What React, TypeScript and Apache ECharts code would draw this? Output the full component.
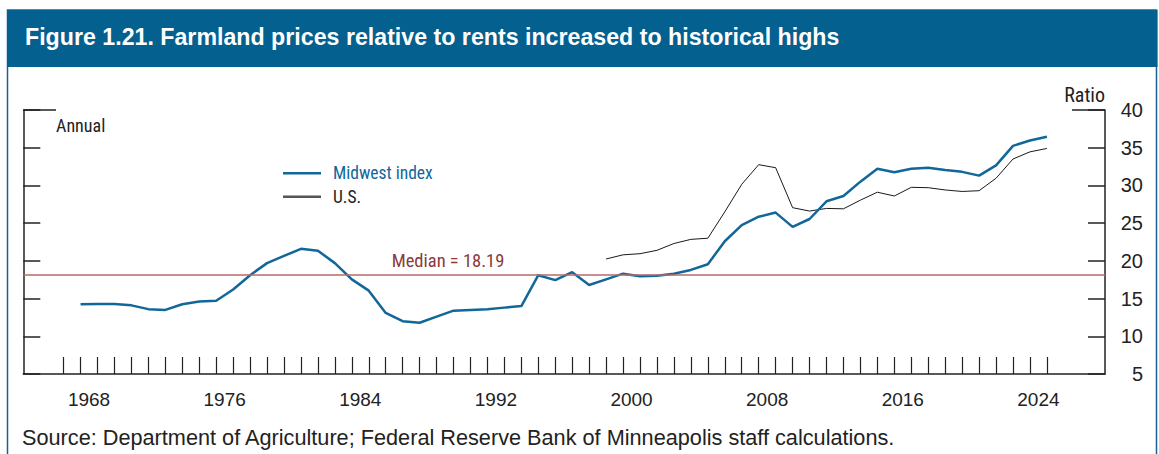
import React, { useEffect, useRef } from "react";
import * as echarts from "echarts";

// ---- Data ----
const midwestYears: number[] = [
  1968, 1969, 1970, 1971, 1972, 1973, 1974, 1975, 1976, 1977, 1978, 1979, 1980,
  1981, 1982, 1983, 1984, 1985, 1986, 1987, 1988, 1989, 1990, 1991, 1992, 1993,
  1994, 1995, 1996, 1997, 1998, 1999, 2000, 2001, 2002, 2003, 2004, 2005, 2006,
  2007, 2008, 2009, 2010, 2011, 2012, 2013, 2014, 2015, 2016, 2017, 2018, 2019,
  2020, 2021, 2022, 2023, 2024, 2025,
];
const midwestValues: number[] = [
  14.24, 14.28, 14.28, 14.1, 13.6, 13.5, 14.25, 14.6, 14.7, 16.2, 18.1, 19.7, 20.65,
  21.6, 21.35, 19.7, 17.55, 16.05, 13.1, 12.0, 11.8, 12.6, 13.4, 13.5, 13.6, 13.8,
  14.0, 18.1, 17.45, 18.5, 16.8, 17.55, 18.3, 17.95, 18.03, 18.3, 18.8, 19.55, 22.6,
  24.75, 25.85, 26.4, 24.5, 25.55, 27.9, 28.6, 30.5, 32.2, 31.75, 32.2, 32.35, 32.05,
  31.8, 31.3, 32.65, 35.25, 35.95, 36.45,
];
const usYears: number[] = [
  1999, 2000, 2001, 2002, 2003, 2004, 2005, 2006, 2007, 2008, 2009, 2010, 2011,
  2012, 2013, 2014, 2015, 2016, 2017, 2018, 2019, 2020, 2021, 2022, 2023, 2024, 2025,
];
const usValues: number[] = [
  20.25, 20.8, 20.95, 21.4, 22.3, 22.85, 23.0, 26.5, 30.15, 32.75, 32.35, 27.05, 26.6,
  26.95, 26.9, 28.05, 29.1, 28.6, 29.75, 29.7, 29.4, 29.2, 29.3, 30.95, 33.5, 34.45, 34.9,
];
const medianValue = 18.19;
const firstTickYear = 1967;
const lastTickYear = 2025;
const labelYears: number[] = [1968, 1976, 1984, 1992, 2000, 2008, 2016, 2024];
const yMin = 5;
const yMax = 40;
const yStep = 5;

const titleText = "Figure 1.21. Farmland prices relative to rents increased to historical highs";
const sourceText =
  "Source: Department of Agriculture; Federal Reserve Bank of Minneapolis staff calculations.";

// ---- Layout ----
const W = 1159;
const H = 454;
const frameLeft = 23.3;
const frameRight = 1105;
const plotTop = 110;
const plotBottom = 374;
const tickLeft = 63.6;
const tickRight = 1046.9;
const pxPerYear = (tickRight - tickLeft) / (lastTickYear - firstTickYear);
const xMin = firstTickYear - (tickLeft - frameLeft) / pxPerYear;
const xMax = lastTickYear + (frameRight - tickRight) / pxPerYear;

const NARROW = "'Liberation Sans Narrow', 'Roboto Condensed', 'DejaVu Sans Condensed', 'Liberation Sans', sans-serif";
const SANS = "'Liberation Sans', Arial, sans-serif";
const BLUE = "#11679A";
const INK = "#222222";

export default function App() {
  const ref = useRef<HTMLDivElement>(null);

  useEffect(() => {
    if (!ref.current) return;
    const chart = echarts.init(ref.current, null, { renderer: "svg" });
    const yToPx = (v: number) => plotBottom - ((v - yMin) / (yMax - yMin)) * (plotBottom - plotTop);

    chart.setOption({
      animation: false,
      backgroundColor: "#ffffff",
      grid: [
        { left: frameLeft, right: W - frameRight, top: plotTop, bottom: H - plotBottom },
        { left: tickLeft, right: W - tickRight, top: plotBottom - 17, bottom: H - plotBottom },
      ],
      xAxis: [
        {
          type: "value",
          gridIndex: 0,
          min: xMin,
          max: xMax,
          axisLine: { show: true, onZero: false, lineStyle: { color: INK, width: 1.5 } },
          axisTick: { show: false },
          axisLabel: { show: false },
          splitLine: { show: false },
        },
        {
          type: "value",
          gridIndex: 1,
          min: firstTickYear,
          max: lastTickYear,
          interval: 1,
          axisLine: { show: false },
          axisTick: { show: true, inside: true, length: 17, lineStyle: { color: INK, width: 1.2 } },
          splitLine: { show: false },
          axisLabel: {
            show: true,
            margin: 25,
            verticalAlign: "middle",
            padding: [0, 0, 0, pxPerYear],
            fontFamily: SANS,
            fontSize: 19,
            color: INK,
            formatter: (v: number) => (labelYears.indexOf(Math.round(v)) >= 0 ? String(Math.round(v)) : ""),
          },
        },
      ],
      yAxis: [
        {
          type: "value",
          gridIndex: 0,
          position: "left",
          min: yMin,
          max: yMax,
          interval: yStep,
          axisLine: { show: true, lineStyle: { color: INK, width: 1.5 } },
          axisTick: { show: true, inside: true, length: 17, lineStyle: { color: INK, width: 1.5 } },
          axisLabel: { show: false },
          splitLine: { show: false },
        },
        {
          type: "value",
          gridIndex: 0,
          position: "right",
          min: yMin,
          max: yMax,
          interval: yStep,
          name: "Ratio",
          nameLocation: "end",
          nameGap: 15,
          nameTextStyle: { fontFamily: NARROW, fontSize: 20, color: INK, align: "right", verticalAlign: "middle" },
          axisLine: { show: true, lineStyle: { color: INK, width: 1.5 } },
          axisTick: { show: true, inside: true, length: 17, lineStyle: { color: INK, width: 1.5 } },
          axisLabel: { show: true, align: "right", margin: 38, fontFamily: SANS, fontSize: 20, color: INK },
          splitLine: { show: false },
        },
        {
          type: "value",
          gridIndex: 1,
          show: false,
          min: 0,
          max: 1,
        },
      ],
      legend: {
        orient: "vertical",
        left: 283,
        top: 163.3,
        icon: "rect",
        itemWidth: 38,
        itemHeight: 2.5,
        itemGap: 3.4,
        padding: 0,
        selectedMode: false,
        textStyle: { fontFamily: NARROW, fontSize: 17.5, lineHeight: 20, padding: [0, 0, 0, 7] },
        data: [
          { name: "Midwest index", textStyle: { color: BLUE }, itemStyle: { color: BLUE } },
          { name: "U.S.", textStyle: { color: INK }, itemStyle: { color: "#555555" } },
        ],
      },
      series: [
        {
          name: "Midwest index",
          type: "line",
          xAxisIndex: 0,
          yAxisIndex: 0,
          symbol: "none",
          z: 3,
          lineStyle: { color: BLUE, width: 2.5 },
          itemStyle: { color: BLUE },
          data: midwestYears.map((y, i) => [y, midwestValues[i]]),
          markLine: {
            silent: true,
            symbol: "none",
            label: { show: false },
            lineStyle: { color: "#B66A6A", width: 1.5, type: "solid" },
            data: [{ yAxis: medianValue }],
          },
        },
        {
          name: "U.S.",
          type: "line",
          xAxisIndex: 0,
          yAxisIndex: 0,
          symbol: "none",
          z: 2,
          lineStyle: { color: "#1a1a1a", width: 1 },
          itemStyle: { color: "#1a1a1a" },
          data: usYears.map((y, i) => [y, usValues[i]]),
        },
      ],
      graphic: [
        {
          type: "rect",
          shape: { x: 7.5, y: 10, width: 1149, height: 470 },
          style: { fill: "none", stroke: "#1B6190", lineWidth: 1.5 },
          silent: true,
        },
        {
          type: "rect",
          shape: { x: 7, y: 10, width: 1150.5, height: 57 },
          style: { fill: "#03608F" },
          silent: true,
        },
        {
          type: "text",
          x: 25,
          y: 37,
          style: {
            text: titleText,
            fill: "#ffffff",
            font: `bold 23.2px ${SANS}`,
            verticalAlign: "middle",
          },
          silent: true,
        },
        {
          type: "line",
          shape: { x1: frameLeft, y1: plotTop, x2: 56, y2: plotTop },
          style: { stroke: INK, lineWidth: 1.5 },
          silent: true,
        },
        {
          type: "line",
          shape: { x1: 1072, y1: plotTop, x2: frameRight, y2: plotTop },
          style: { stroke: INK, lineWidth: 1.5 },
          silent: true,
        },
        {
          type: "text",
          x: 56,
          y: 125,
          style: { text: "Annual", fill: INK, font: `18px ${NARROW}`, verticalAlign: "middle" },
          silent: true,
        },
        {
          type: "text",
          x: 391.7,
          y: yToPx(medianValue) - 14,
          style: {
            text: `Median = ${medianValue}`,
            fill: "#8C3A3A",
            font: `18.5px ${NARROW}`,
            verticalAlign: "middle",
          },
          silent: true,
        },
        {
          type: "text",
          x: 22,
          y: 437,
          style: { text: sourceText, fill: INK, font: `21.7px ${SANS}`, verticalAlign: "middle" },
          silent: true,
        },
      ],
    });

    return () => chart.dispose();
  }, []);

  return (
    <div
      ref={ref}
      style={{ position: "absolute", left: 0, top: 0, width: W, height: H, background: "#fff" }}
    />
  );
}
